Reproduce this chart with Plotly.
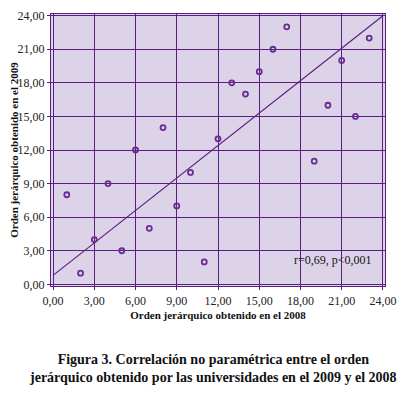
import plotly.graph_objects as go

# Data
rank_2008 = [1, 2, 3, 4, 5, 6, 7, 8, 9, 10, 11, 12, 13, 14, 15, 16, 17, 19, 20, 21, 22, 23]
rank_2009 = [8, 1, 4, 9, 3, 12, 5, 14, 7, 10, 2, 13, 18, 17, 19, 21, 23, 11, 16, 20, 15, 22]
line_x = [0, 24]
line_y = [0.8, 24]
tick_vals = [0, 3, 6, 9, 12, 15, 18, 21, 24]
tick_text = ["0,00", "3,00", "6,00", "9,00", "12,00", "15,00", "18,00", "21,00", "24,00"]
x_title = "Orden jerárquico obtenido en el 2008"
y_title = "Orden jerárquico obtenido en el 2009"
stat_text = "r=0,69, p<0,001"
caption = "Figura 3. Correlación no paramétrica entre el orden<br>jerárquico obtenido por las universidades en el 2009 y el 2008"

purple = "#5c1f80"
font = "Liberation Serif, Times New Roman, serif"

fig = go.Figure()
fig.add_trace(go.Scatter(x=line_x, y=line_y, mode="lines",
                         line=dict(color=purple, width=1.2), showlegend=False, hoverinfo="skip"))
fig.add_trace(go.Scatter(x=rank_2008, y=rank_2009, mode="markers",
                         marker=dict(symbol="circle-open", size=5, color="#6a2c91",
                                     line=dict(width=1.8, color="#6a2c91")),
                         showlegend=False))

axis_common = dict(
    tickvals=tick_vals, ticktext=tick_text,
    showgrid=True, gridcolor=purple, gridwidth=1.2,
    showline=True, linecolor=purple, linewidth=1.2, mirror=True,
    ticks="outside", ticklen=3, tickcolor=purple,
    zeroline=False, automargin=False,
    tickfont=dict(family=font, size=12, color="#222222"),
)

fig.update_layout(
    width=406, height=387,
    margin=dict(l=43, r=29, t=6, b=109),
    paper_bgcolor="white",
    plot_bgcolor="#dcd3e9",
    font=dict(family=font, color="#111111"),
    xaxis=dict(range=[-0.15, 24.15], **axis_common,
               title=dict(text="<b>" + x_title + "</b>", font=dict(family=font, size=11), standoff=4)),
    yaxis=dict(range=[-0.15, 24.15], **axis_common,
               title=dict(text="<b>" + y_title + "</b>", font=dict(family=font, size=11), standoff=3)),
    annotations=[
        dict(x=20.4, y=2.2, xref="x", yref="y", text=stat_text, showarrow=False,
             font=dict(family=font, size=12, color="#111111")),
        dict(x=0.5, y=0, xref="paper", yref="paper", yshift=-82, xshift=-5, yanchor="middle",
             text="<b>" + caption + "</b>", showarrow=False, align="center",
             font=dict(family=font, size=14, color="#111111")),
    ],
)

fig.write_html("out.html")
